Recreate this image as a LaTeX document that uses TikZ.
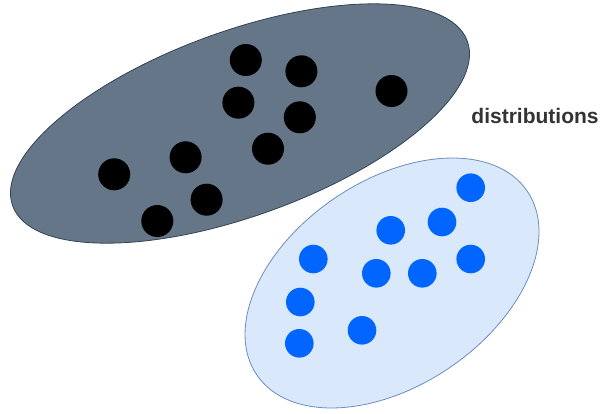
\documentclass[tikz,border=0pt]{standalone}
\usepackage{fontspec}
\setmainfont{Liberation Sans}
\usepackage{xcolor}

\definecolor{slatefill}{HTML}{647687}
\definecolor{slateline}{HTML}{314354}
\definecolor{palefill}{HTML}{DAE8FC}
\definecolor{paleline}{HTML}{6C8EBF}
\definecolor{dotblue}{HTML}{0066FF}
\definecolor{labelgray}{HTML}{333333}

\tikzset{
  blackdot/.style={circle,fill=black,inner sep=0pt,minimum size=32pt},
  bluedot/.style={circle,fill=dotblue,inner sep=0pt,minimum size=28.6pt}
}

\begin{document}
\begin{tikzpicture}[x=1pt,y=-1pt]
\useasboundingbox (0,0) rectangle (609,413);

% Dark cloud (tilted)
\filldraw[fill=slatefill,draw=slateline,line width=0.8pt,rotate around={19.9:(240,123.5)}]
  (240,123.5) ellipse [x radius=241.8, y radius=92.4];

% Light cloud (tilted)
\filldraw[fill=palefill,draw=paleline,line width=0.8pt,rotate around={34.2:(392,283)}]
  (392,283) ellipse [x radius=163.5, y radius=102.4];

% Black samples
\foreach \x/\y [count=\i] in {245.8/60, 301.4/71.3, 238.4/102.7, 391.5/91,
  299.8/117.3, 268/148.7, 185.6/157.3, 114.2/174.3, 206.6/199.7, 157.3/221}
  \node[blackdot] (k\i) at (\x,\y) {};

% Blue samples
\foreach \x/\y [count=\i] in {470.7/187.7, 442/222, 390.7/230.3, 313.3/259,
  470.7/259, 376.3/273.3, 422.3/273.3, 300.3/302, 362/330.3, 299.3/343.3}
  \node[bluedot] (b\i) at (\x,\y) {};

% Label
\node[font=\bfseries\fontsize{21}{25}\selectfont, text=labelgray] (dist) at (535,115.5) {distributions};

\end{tikzpicture}
\end{document}
